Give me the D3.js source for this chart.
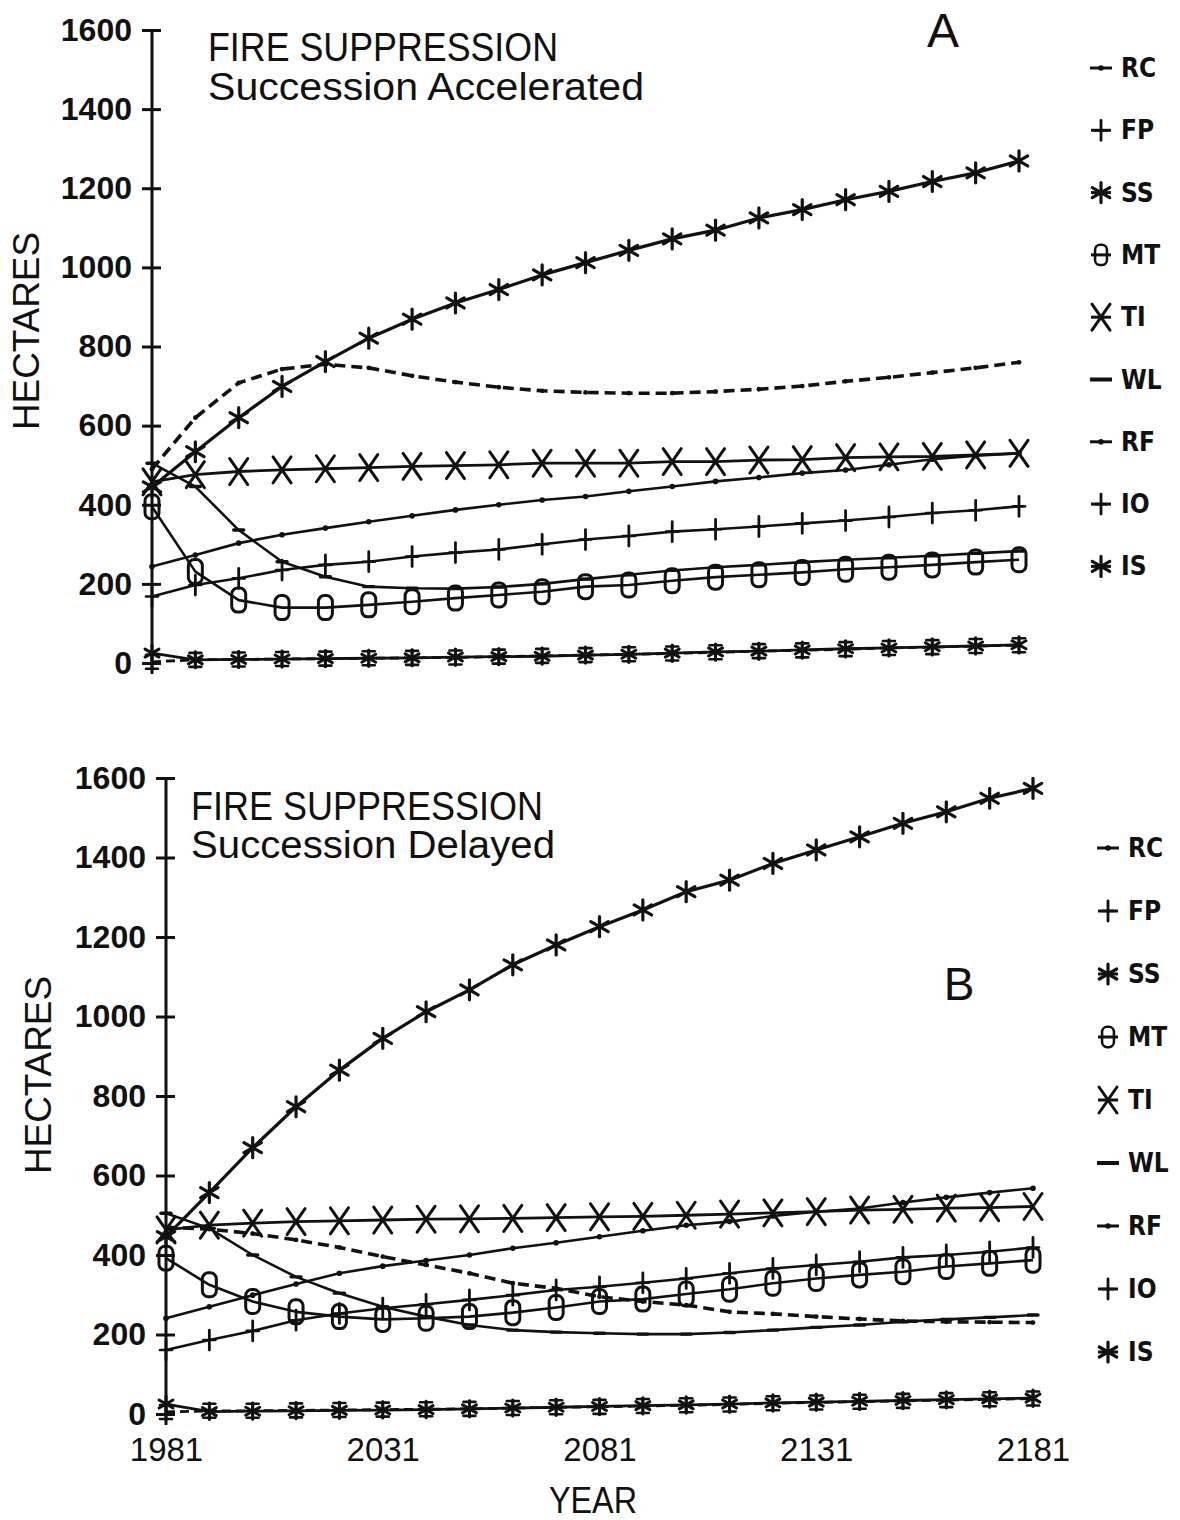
<!DOCTYPE html>
<html>
<head>
<meta charset="utf-8">
<script src="https://cdn.jsdelivr.net/npm/d3@7"></script>
<style>
  body { margin: 0; background: #fff; }
  svg { display: block; background: #fff; }
</style>
</head>
<body>
<svg id="chart" width="1180" height="1520"></svg>
<script>
// Simulated years (one point every ten years)
const years = [1981, 1991, 2001, 2011, 2021, 2031, 2041, 2051, 2061, 2071, 2081,
               2091, 2101, 2111, 2121, 2131, 2141, 2151, 2161, 2171, 2181];
const yearTicks = [1981, 2031, 2081, 2131, 2181];
const hectareTicks = [0, 200, 400, 600, 800, 1000, 1200, 1400, 1600];
const codes = ["RC", "FP", "SS", "MT", "TI", "WL", "RF", "IO", "IS"];

// A: fire suppression, succession accelerated (hectares)
const accRC = [244, 273, 303, 324, 341, 357, 372, 387, 400, 412, 421, 434, 446, 459, 469, 480, 488, 501, 515, 524, 530];
const accFP = [168, 197, 214, 235, 248, 256, 269, 279, 287, 300, 312, 321, 332, 338, 345, 353, 360, 369, 379, 386, 396];
const accSS = [445, 534, 620, 699, 762, 821, 869, 910, 944, 981, 1012, 1043, 1072, 1094, 1125, 1146, 1171, 1192, 1217, 1239, 1269];
const accMT = [395, 231, 159, 140, 140, 147, 155, 164, 172, 180, 193, 197, 208, 217, 223, 229, 237, 242, 248, 255, 261];
const accTI = [458, 476, 484, 488, 491, 494, 497, 499, 501, 505, 505, 505, 509, 509, 513, 514, 519, 521, 522, 526, 530];
const accWL = [505, 446, 336, 256, 218, 193, 189, 188, 192, 200, 212, 223, 234, 242, 248, 255, 261, 266, 271, 277, 283];
const accRF = [490, 620, 708, 743, 755, 746, 726, 710, 697, 688, 684, 682, 682, 686, 692, 700, 712, 722, 734, 746, 760];
const accIO = [3, 8, 9, 10, 11, 12, 13, 14, 16, 18, 20, 22, 24, 27, 30, 32, 35, 38, 40, 43, 45];
const accIS = [25, 8, 9, 10, 11, 12, 13, 15, 16, 17, 20, 22, 25, 28, 30, 33, 36, 38, 41, 43, 46];

// B: fire suppression, succession delayed (hectares)
const delRC = [241, 270, 299, 327, 354, 372, 386, 400, 417, 431, 446, 461, 475, 484, 498, 509, 517, 532, 545, 557, 568];
const delFP = [161, 186, 209, 236, 253, 266, 276, 287, 299, 312, 320, 330, 341, 354, 366, 375, 383, 394, 400, 408, 419];
const delSS = [446, 557, 670, 773, 865, 945, 1012, 1067, 1130, 1180, 1226, 1268, 1314, 1343, 1385, 1419, 1452, 1486, 1515, 1549, 1574];
const delMT = [392, 325, 283, 257, 245, 238, 241, 245, 255, 268, 283, 289, 302, 314, 329, 341, 350, 358, 371, 379, 387];
const delTI = [463, 475, 480, 484, 486, 488, 490, 491, 492, 494, 496, 497, 500, 503, 506, 509, 513, 515, 518, 519, 522];
const delWL = [505, 467, 400, 345, 304, 270, 245, 224, 211, 206, 203, 201, 201, 205, 211, 218, 224, 232, 238, 243, 249];
const delRF = [470, 465, 454, 438, 419, 396, 375, 354, 329, 316, 295, 283, 274, 257, 252, 245, 239, 234, 232, 231, 230];
const delIO = [5, 8, 8, 9, 10, 11, 12, 13, 15, 17, 18, 20, 22, 24, 27, 29, 31, 33, 35, 37, 39];
const delIS = [25, 6, 7, 8, 9, 10, 11, 13, 15, 17, 19, 21, 23, 25, 28, 30, 32, 34, 36, 38, 40];

// Per-series drawing style
const styles = {
  RC: { marker: "dot",    dash: null,   width: 2.6 },
  FP: { marker: "plus",   dash: null,   width: 2.6 },
  SS: { marker: "star",   dash: null,   width: 3.2 },
  MT: { marker: "oval",   dash: null,   width: 2.6 },
  TI: { marker: "cross",  dash: null,   width: 2.8 },
  WL: { marker: "bar",    dash: null,   width: 2.6 },
  RF: { marker: "rfdot",  dash: "11 6", width: 3.6 },
  IO: { marker: "iplus",  dash: "9 5",  width: 2.8 },
  IS: { marker: "sstar",  dash: null,   width: 2.8 }
};

const panels = [
  {
    series: { RC: accRC, FP: accFP, SS: accSS, MT: accMT, TI: accTI, WL: accWL, RF: accRF, IO: accIO, IS: accIS },
    x0: 152, x1: 1019, yTop: 30, yBot: 663,
    title1: "FIRE SUPPRESSION", title2: "Succession Accelerated",
    titleX: 208, t1Y: 61, t2Y: 100, t1Len: 350, t2Len: 436,
    letter: "A", letterX: 943, letterY: 47, letterSize: 48,
    legX: 1101, legY0: 68, legStep: 62.3,
    hectX: 26, hectY: 331, showYears: false
  },
  {
    series: { RC: delRC, FP: delFP, SS: delSS, MT: delMT, TI: delTI, WL: delWL, RF: delRF, IO: delIO, IS: delIS },
    x0: 166, x1: 1033, yTop: 778, yBot: 1414,
    title1: "FIRE SUPPRESSION", title2: "Succession Delayed",
    titleX: 191, t1Y: 820, t2Y: 858, t1Len: 352, t2Len: 364,
    letter: "B", letterX: 959, letterY: 1000, letterSize: 46,
    legX: 1108, legY0: 848, legStep: 63,
    hectX: 38, hectY: 1075, showYears: true
  }
];

const svg = d3.select("#chart");
const INK = "#111";

function drawMarker(g, type, cx, cy, s = 1) {
  const m = g.append("g").attr("transform", `translate(${cx},${cy}) scale(${s})`)
    .attr("stroke", INK).attr("fill", "none").attr("stroke-linecap", "round");
  const seg = (x1, y1, x2, y2, w) => m.append("line")
    .attr("x1", x1).attr("y1", y1).attr("x2", x2).attr("y2", y2).attr("stroke-width", w);
  switch (type) {
    case "dot":
      m.append("circle").attr("r", 2.8).attr("fill", INK).attr("stroke", "none");
      break;
    case "rfdot":
      m.append("circle").attr("r", 2.4).attr("fill", INK).attr("stroke", "none");
      break;
    case "plus":
      seg(0, -10, 0, 10, 2.8); seg(-6, 0, 6, 0, 2.6);
      break;
    case "iplus":
      seg(0, -8, 0, 8, 2.8); seg(-6, -7, 6, -7, 2.6); seg(-6, 7, 6, 7, 2.6);
      break;
    case "star": {
      const r = 10;
      seg(0, -r, 0, r, 3.2);
      seg(-r * 0.87, -r * 0.5, r * 0.87, r * 0.5, 3.2);
      seg(-r * 0.87, r * 0.5, r * 0.87, -r * 0.5, 3.2);
      break;
    }
    case "sstar": {
      const r = 8;
      seg(0, -r, 0, r, 3);
      seg(-r * 0.87, -r * 0.5, r * 0.87, r * 0.5, 3);
      seg(-r * 0.87, r * 0.5, r * 0.87, -r * 0.5, 3);
      break;
    }
    case "oval":
      m.append("rect").attr("x", -7).attr("y", -12).attr("width", 14).attr("height", 24)
        .attr("rx", 6).attr("stroke-width", 3);
      break;
    case "cross":
      m.append("path").attr("d", "M-9,-13 Q-2,-3 0,0 Q2,3 9,13 M9,-13 Q2,-3 0,0 Q-2,3 -9,13")
        .attr("stroke-width", 3);
      break;
    case "bar":
      seg(-5, 0, 5, 0, 3.4);
      break;
  }
}

panels.forEach(p => {
  const g = svg.append("g");
  const x = d3.scaleLinear().domain([years[0], years[years.length - 1]]).range([p.x0, p.x1]);
  const y = d3.scaleLinear().domain([0, 1600]).range([p.yBot, p.yTop]);

  // vertical axis line
  g.append("line")
    .attr("x1", x(1981)).attr("x2", x(1981))
    .attr("y1", y(1600)).attr("y2", y(0) + 11)
    .attr("stroke", INK).attr("stroke-width", 3);

  // hectare ticks cross the axis line
  const yAxis = d3.axisLeft(y).tickValues(hectareTicks).tickSize(10).tickPadding(10)
    .tickFormat(d3.format("d"));
  const ga = g.append("g").attr("transform", `translate(${x(1981)},0)`).call(yAxis)
    .attr("font-size", null).attr("font-family", null);
  ga.select(".domain").remove();
  ga.selectAll(".tick line").attr("x1", 9).attr("stroke", INK).attr("stroke-width", 3);
  ga.selectAll(".tick text")
    .attr("fill", INK)
    .attr("font-family", "'Liberation Sans', Arial, sans-serif")
    .attr("font-weight", "bold")
    .attr("font-size", 32)
    .attr("dy", "0.32em");

  if (p.showYears) {
    const xAxis = d3.axisBottom(x).tickValues(yearTicks).tickSize(0).tickPadding(24)
      .tickFormat(d3.format("d"));
    const gx = g.append("g").attr("transform", `translate(0,${y(0)})`).call(xAxis)
      .attr("font-size", null).attr("font-family", null);
    gx.select(".domain").remove();
    gx.selectAll(".tick text")
      .attr("fill", INK)
      .attr("font-family", "'Liberation Sans', Arial, sans-serif")
      .attr("font-size", 33);
    g.append("text")
      .attr("x", 593).attr("y", 1513)
      .attr("text-anchor", "middle")
      .attr("font-family", "'Liberation Sans', Arial, sans-serif")
      .attr("font-size", 36)
      .attr("textLength", 88).attr("lengthAdjust", "spacingAndGlyphs")
      .attr("fill", INK)
      .text("YEAR");
  }

  // y axis title
  g.append("text")
    .attr("transform", `translate(${p.hectX},${p.hectY}) rotate(-90)`)
    .attr("text-anchor", "middle")
    .attr("dominant-baseline", "central")
    .attr("font-family", "'Liberation Sans', Arial, sans-serif")
    .attr("font-size", 37)
    .attr("textLength", 198).attr("lengthAdjust", "spacingAndGlyphs")
    .attr("fill", INK)
    .text("HECTARES");

  // panel titles
  const titleFont = "'Liberation Sans', Arial, sans-serif";
  g.append("text").attr("x", p.titleX).attr("y", p.t1Y)
    .attr("font-family", titleFont).attr("font-size", 40)
    .attr("textLength", p.t1Len).attr("lengthAdjust", "spacingAndGlyphs")
    .attr("fill", INK).text(p.title1);
  g.append("text").attr("x", p.titleX).attr("y", p.t2Y)
    .attr("font-family", titleFont).attr("font-size", 38)
    .attr("textLength", p.t2Len).attr("lengthAdjust", "spacingAndGlyphs")
    .attr("fill", INK).text(p.title2);
  g.append("text").attr("x", p.letterX).attr("y", p.letterY)
    .attr("text-anchor", "middle")
    .attr("font-family", titleFont).attr("font-size", p.letterSize)
    .attr("fill", INK).text(p.letter);

  // series lines then markers
  const line = d3.line().x((d, i) => x(years[i])).y(d => y(d));
  const drawOrder = ["IO", "IS", "MT", "WL", "FP", "RC", "TI", "RF", "SS"];
  drawOrder.forEach(code => {
    const st = styles[code];
    g.append("path")
      .datum(p.series[code])
      .attr("d", line)
      .attr("fill", "none")
      .attr("stroke", INK)
      .attr("stroke-width", st.width)
      .attr("stroke-dasharray", st.dash)
      .attr("stroke-linejoin", "round");
  });
  drawOrder.forEach(code => {
    const st = styles[code];
    p.series[code].forEach((v, i) => drawMarker(g, st.marker, x(years[i]), y(v)));
  });

  // legend
  codes.forEach((code, k) => {
    const ly = p.legY0 + k * p.legStep;
    const st = styles[code];
    const lg = g.append("g");
    if (code === "WL") {
      lg.append("line").attr("x1", p.legX - 11).attr("x2", p.legX + 11)
        .attr("y1", ly).attr("y2", ly).attr("stroke", INK).attr("stroke-width", 4);
    } else if (code === "RC" || code === "RF") {
      lg.append("line").attr("x1", p.legX - 11).attr("x2", p.legX + 11)
        .attr("y1", ly).attr("y2", ly).attr("stroke", INK).attr("stroke-width", 3);
      drawMarker(lg, "dot", p.legX, ly);
    } else {
      lg.append("line").attr("x1", p.legX - 10).attr("x2", p.legX + 10)
        .attr("y1", ly).attr("y2", ly).attr("stroke", INK).attr("stroke-width", 3);
      const mk = st.marker === "iplus" ? "plus" : st.marker === "sstar" ? "star" : st.marker;
      drawMarker(lg, mk, p.legX, ly, mk === "oval" ? 0.85 : 1);
    }
    lg.append("text")
      .attr("x", p.legX + 20).attr("y", ly)
      .attr("dominant-baseline", "central")
      .attr("font-family", "'Liberation Sans Narrow', 'DejaVu Sans Condensed', sans-serif")
      .attr("font-weight", "bold")
      .attr("font-size", 26)
      .attr("fill", INK)
      .text(code);
  });
});
</script>
</body>
</html>
